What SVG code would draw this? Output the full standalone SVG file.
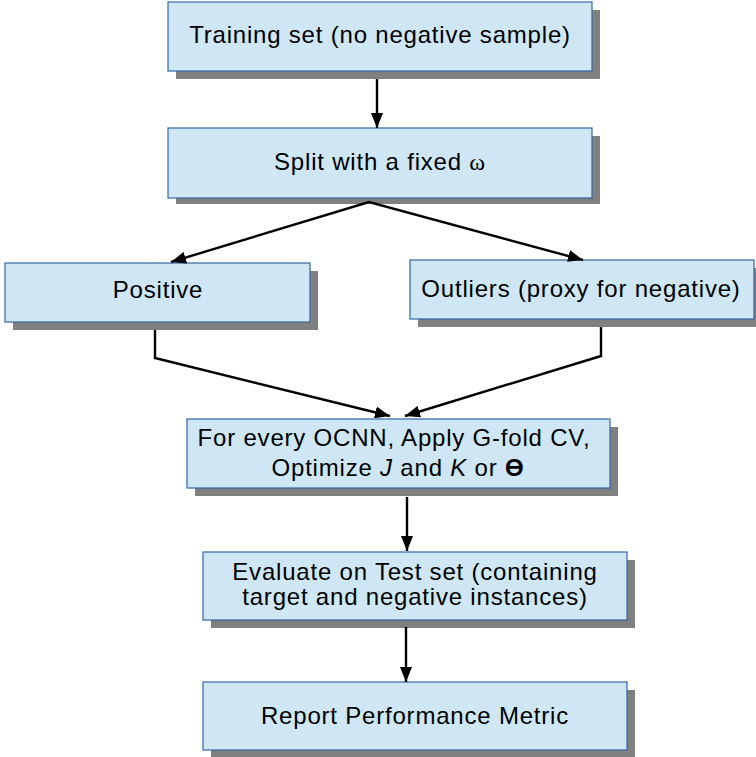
<svg xmlns="http://www.w3.org/2000/svg" width="756" height="757" viewBox="0 0 756 757">
<defs>
<style>
.box{fill:#cfe7f5;stroke:#3465a4;stroke-width:1.2}
.sh{fill:#808080}
.t{font-family:"Liberation Sans",Arial,sans-serif;font-size:24px;letter-spacing:0.8px;fill:#000;text-anchor:middle}
.c{fill:none;stroke:#000;stroke-width:2.4;stroke-linejoin:miter}
.e{marker-end:url(#ah)}
</style>
<marker id="ah" markerUnits="userSpaceOnUse" markerWidth="16" markerHeight="12" refX="15" refY="6" orient="auto-start-reverse">
<path d="M0,0 L15,6 L0,12 z" fill="#000"/>
</marker>
</defs>
<rect width="756" height="757" fill="#fff"/>
<g id="n1">
<rect class="sh" x="176" y="10" width="424" height="69"/>
<rect class="box" x="168" y="2" width="424" height="69"/>
<text class="t" x="380" y="43">Training set (no negative sample)</text>
</g>
<g id="n2">
<rect class="sh" x="176" y="136" width="424" height="68"/>
<rect class="box" x="168" y="128" width="424" height="70"/>
<text class="t" x="380" y="170">Split with a fixed <tspan font-family="'Liberation Serif',serif">ω</tspan></text>
</g>
<g id="n3">
<rect class="sh" x="13" y="271" width="305" height="59"/>
<rect class="box" x="5" y="263" width="305" height="59"/>
<text class="t" x="158" y="298">Positive</text>
</g>
<g id="n4">
<rect class="sh" x="418" y="268" width="338" height="59"/>
<rect class="box" x="410" y="260" width="344" height="59"/>
<text class="t" x="581" y="297">Outliers (proxy for negative)</text>
</g>
<g id="n5">
<rect class="sh" x="195" y="427" width="423" height="69"/>
<rect class="box" x="187" y="419" width="423" height="69"/>
<text class="t" x="394" y="446">For every OCNN, Apply G-fold CV,</text>
<text class="t" x="398" y="476">Optimize <tspan font-style="italic">J</tspan> and <tspan font-style="italic">K</tspan> or <tspan font-weight="bold">ϴ</tspan></text>
</g>
<g id="n6">
<rect class="sh" x="211" y="560" width="424" height="68"/>
<rect class="box" x="203" y="552" width="424" height="68"/>
<text class="t" x="415" y="580">Evaluate on Test set (containing</text>
<text class="t" x="415" y="605">target and negative instances)</text>
</g>
<g id="n7">
<rect class="sh" x="211" y="690" width="424" height="68"/>
<rect class="box" x="203" y="682" width="424" height="68"/>
<text class="t" x="415" y="724">Report Performance Metric</text>
</g>
<g id="connectors">
<path class="c e" d="M377,79 V128"/>
<path class="c e" d="M171,262 L369,202 L583,260" marker-start="url(#ah)"/>
<path class="c e" d="M155,330 V358 L390,416"/>
<path class="c e" d="M601,327 V356 L405,416"/>
<path class="c e" d="M407,497 V551"/>
<path class="c e" d="M406,627 V682"/>
</g>
</svg>
